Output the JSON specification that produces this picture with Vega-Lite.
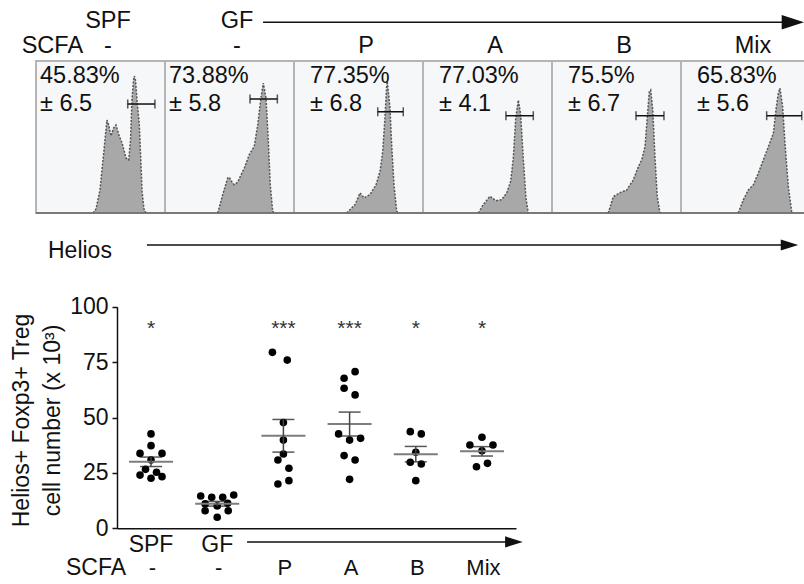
{
  "$schema": "https://vega.github.io/schema/vega-lite/v6.json",
  "width": 804,
  "height": 584,
  "autosize": {"type": "fit", "contains": "padding"},
  "padding": 0,
  "background": "white",
  "config": {
    "view": {"stroke": null},
    "font": "Liberation Sans",
    "text": {"font": "Liberation Sans", "color": "#111111"},
    "axis": {"labelFont": "Liberation Sans", "titleFont": "Liberation Sans"}
  },
  "datasets": {
    "panels": [
      {"panel": 0, "geno": "SPF", "scfa": "-", "pct": "45.83%", "sd": "± 6.5", "lo": 0.711, "hi": 0.922, "gate": 0.717},
      {"panel": 1, "geno": "GF", "scfa": "-", "pct": "73.88%", "sd": "± 5.8", "lo": 0.659, "hi": 0.871, "gate": 0.75},
      {"panel": 2, "geno": "", "scfa": "P", "pct": "77.35%", "sd": "± 6.8", "lo": 0.649, "hi": 0.847, "gate": 0.666},
      {"panel": 3, "geno": "", "scfa": "A", "pct": "77.03%", "sd": "± 4.1", "lo": 0.643, "hi": 0.855, "gate": 0.64},
      {"panel": 4, "geno": "", "scfa": "B", "pct": "75.5%", "sd": "± 6.7", "lo": 0.651, "hi": 0.868, "gate": 0.64},
      {"panel": 5, "geno": "", "scfa": "Mix", "pct": "65.83%", "sd": "± 5.6", "lo": 0.664, "hi": 0.936, "gate": 0.64}
    ],
    "hist": [
      {"p": 0, "h": 0.442, "c": 0}, {"p": 0, "h": 0.465, "c": 0.026}, {"p": 0, "h": 0.496, "c": 0.151}, {"p": 0, "h": 0.527, "c": 0.414},
      {"p": 0, "h": 0.55, "c": 0.612}, {"p": 0, "h": 0.566, "c": 0.572}, {"p": 0, "h": 0.581, "c": 0.507}, {"p": 0, "h": 0.601, "c": 0.559},
      {"p": 0, "h": 0.62, "c": 0.579}, {"p": 0, "h": 0.643, "c": 0.513}, {"p": 0, "h": 0.667, "c": 0.461}, {"p": 0, "h": 0.686, "c": 0.401},
      {"p": 0, "h": 0.698, "c": 0.362}, {"p": 0, "h": 0.719, "c": 0.349}, {"p": 0, "h": 0.733, "c": 0.48}, {"p": 0, "h": 0.744, "c": 0.743},
      {"p": 0, "h": 0.756, "c": 0.875}, {"p": 0, "h": 0.762, "c": 0.901}, {"p": 0, "h": 0.771, "c": 0.875}, {"p": 0, "h": 0.783, "c": 0.743},
      {"p": 0, "h": 0.801, "c": 0.579}, {"p": 0, "h": 0.814, "c": 0.316}, {"p": 0, "h": 0.822, "c": 0.145}, {"p": 0, "h": 0.837, "c": 0.026},
      {"p": 0, "h": 0.853, "c": 0},
      {"p": 1, "h": 0.409, "c": 0}, {"p": 1, "h": 0.447, "c": 0.12}, {"p": 1, "h": 0.486, "c": 0.23}, {"p": 1, "h": 0.498, "c": 0.235},
      {"p": 1, "h": 0.519, "c": 0.204}, {"p": 1, "h": 0.537, "c": 0.186}, {"p": 1, "h": 0.564, "c": 0.204}, {"p": 1, "h": 0.589, "c": 0.25},
      {"p": 1, "h": 0.615, "c": 0.296}, {"p": 1, "h": 0.653, "c": 0.384}, {"p": 1, "h": 0.692, "c": 0.439}, {"p": 1, "h": 0.719, "c": 0.581},
      {"p": 1, "h": 0.744, "c": 0.757}, {"p": 1, "h": 0.762, "c": 0.855}, {"p": 1, "h": 0.783, "c": 0.757}, {"p": 1, "h": 0.801, "c": 0.472},
      {"p": 1, "h": 0.816, "c": 0.186}, {"p": 1, "h": 0.835, "c": 0.011}, {"p": 1, "h": 0.845, "c": 0},
      {"p": 2, "h": 0.409, "c": 0}, {"p": 2, "h": 0.473, "c": 0.055}, {"p": 2, "h": 0.512, "c": 0.132}, {"p": 2, "h": 0.543, "c": 0.099},
      {"p": 2, "h": 0.589, "c": 0.121}, {"p": 2, "h": 0.636, "c": 0.186}, {"p": 2, "h": 0.667, "c": 0.274}, {"p": 2, "h": 0.688, "c": 0.406},
      {"p": 2, "h": 0.705, "c": 0.625}, {"p": 2, "h": 0.719, "c": 0.844}, {"p": 2, "h": 0.723, "c": 0.866}, {"p": 2, "h": 0.744, "c": 0.691},
      {"p": 2, "h": 0.757, "c": 0.45}, {"p": 2, "h": 0.775, "c": 0.186}, {"p": 2, "h": 0.796, "c": 0.011}, {"p": 2, "h": 0.806, "c": 0},
      {"p": 3, "h": 0.429, "c": 0}, {"p": 3, "h": 0.467, "c": 0.055}, {"p": 3, "h": 0.519, "c": 0.11}, {"p": 3, "h": 0.566, "c": 0.081},
      {"p": 3, "h": 0.61, "c": 0.088}, {"p": 3, "h": 0.649, "c": 0.132}, {"p": 3, "h": 0.68, "c": 0.209}, {"p": 3, "h": 0.7, "c": 0.362},
      {"p": 3, "h": 0.719, "c": 0.625}, {"p": 3, "h": 0.739, "c": 0.743}, {"p": 3, "h": 0.757, "c": 0.647}, {"p": 3, "h": 0.777, "c": 0.362},
      {"p": 3, "h": 0.798, "c": 0.099}, {"p": 3, "h": 0.816, "c": 0},
      {"p": 4, "h": 0.436, "c": 0}, {"p": 4, "h": 0.475, "c": 0.107}, {"p": 4, "h": 0.527, "c": 0.134}, {"p": 4, "h": 0.579, "c": 0.151},
      {"p": 4, "h": 0.63, "c": 0.217}, {"p": 4, "h": 0.669, "c": 0.304}, {"p": 4, "h": 0.695, "c": 0.349}, {"p": 4, "h": 0.721, "c": 0.436},
      {"p": 4, "h": 0.739, "c": 0.634}, {"p": 4, "h": 0.754, "c": 0.798}, {"p": 4, "h": 0.765, "c": 0.809}, {"p": 4, "h": 0.781, "c": 0.678},
      {"p": 4, "h": 0.798, "c": 0.37}, {"p": 4, "h": 0.816, "c": 0.107}, {"p": 4, "h": 0.837, "c": 0},
      {"p": 5, "h": 0.444, "c": 0}, {"p": 5, "h": 0.483, "c": 0.086}, {"p": 5, "h": 0.522, "c": 0.151}, {"p": 5, "h": 0.56, "c": 0.184},
      {"p": 5, "h": 0.599, "c": 0.261}, {"p": 5, "h": 0.638, "c": 0.349}, {"p": 5, "h": 0.677, "c": 0.436}, {"p": 5, "h": 0.716, "c": 0.524},
      {"p": 5, "h": 0.736, "c": 0.678}, {"p": 5, "h": 0.754, "c": 0.787}, {"p": 5, "h": 0.767, "c": 0.82}, {"p": 5, "h": 0.788, "c": 0.699},
      {"p": 5, "h": 0.806, "c": 0.458}, {"p": 5, "h": 0.832, "c": 0.173}, {"p": 5, "h": 0.858, "c": 0.009}, {"p": 5, "h": 0.87, "c": 0}
    ],
    "cells": [
      {"g": "SPF", "v": 42.6, "lane": 0}, {"g": "SPF", "v": 37.3, "lane": 0}, {"g": "SPF", "v": 33.8, "lane": -2}, {"g": "SPF", "v": 33.8, "lane": 2},
      {"g": "SPF", "v": 30.8, "lane": 0}, {"g": "SPF", "v": 26.6, "lane": -1}, {"g": "SPF", "v": 25.3, "lane": 1}, {"g": "SPF", "v": 24.0, "lane": -2},
      {"g": "SPF", "v": 23.3, "lane": 2}, {"g": "SPF", "v": 22.6, "lane": 0},
      {"g": "GF", "v": 14.6, "lane": -3}, {"g": "GF", "v": 14.0, "lane": -1}, {"g": "GF", "v": 14.0, "lane": 1}, {"g": "GF", "v": 15.0, "lane": 3},
      {"g": "GF", "v": 11.0, "lane": -2.2}, {"g": "GF", "v": 10.1, "lane": 0}, {"g": "GF", "v": 11.3, "lane": 1.9}, {"g": "GF", "v": 7.9, "lane": -2.2},
      {"g": "GF", "v": 7.9, "lane": 2}, {"g": "GF", "v": 5.0, "lane": 0},
      {"g": "P", "v": 79.4, "lane": -2}, {"g": "P", "v": 75.9, "lane": 0.7}, {"g": "P", "v": 47.7, "lane": 0}, {"g": "P", "v": 39.8, "lane": 0},
      {"g": "P", "v": 33.5, "lane": 0}, {"g": "P", "v": 30.8, "lane": -1}, {"g": "P", "v": 27.1, "lane": 1}, {"g": "P", "v": 20.0, "lane": -1},
      {"g": "P", "v": 21.5, "lane": 1},
      {"g": "A", "v": 70.7, "lane": 1}, {"g": "A", "v": 67.7, "lane": -1}, {"g": "A", "v": 63.2, "lane": -1}, {"g": "A", "v": 60.2, "lane": 1},
      {"g": "A", "v": 42.6, "lane": -2}, {"g": "A", "v": 39.8, "lane": 0}, {"g": "A", "v": 40.6, "lane": 2}, {"g": "A", "v": 32.8, "lane": -1},
      {"g": "A", "v": 30.8, "lane": 1}, {"g": "A", "v": 22.1, "lane": 0},
      {"g": "B", "v": 43.6, "lane": -1}, {"g": "B", "v": 42.6, "lane": 1}, {"g": "B", "v": 34.3, "lane": 0}, {"g": "B", "v": 29.8, "lane": -1},
      {"g": "B", "v": 29.0, "lane": 1}, {"g": "B", "v": 21.5, "lane": 0},
      {"g": "Mix", "v": 41.1, "lane": 0}, {"g": "Mix", "v": 37.6, "lane": -2.2}, {"g": "Mix", "v": 37.6, "lane": 2}, {"g": "Mix", "v": 35.0, "lane": 0},
      {"g": "Mix", "v": 27.8, "lane": -1}, {"g": "Mix", "v": 29.3, "lane": 1}
    ],
    "groups": [
      {"g": "SPF", "geno": "SPF", "scfa": "-", "sig": "*"},
      {"g": "GF", "geno": "GF", "scfa": "-", "sig": ""},
      {"g": "P", "geno": "", "scfa": "P", "sig": "***"},
      {"g": "A", "geno": "", "scfa": "A", "sig": "***"},
      {"g": "B", "geno": "", "scfa": "B", "sig": "*"},
      {"g": "Mix", "geno": "", "scfa": "Mix", "sig": "*"}
    ]
  },
  "layer": [
    {
      "layer": [
        {
          "data": {"name": "panels"},
          "transform": [{"calculate": "datum.panel + 1", "as": "right"}],
          "mark": {"type": "rect", "fill": "#f5f7f9", "stroke": "#b5b5b5", "strokeWidth": 2},
          "encoding": {
            "x": {"field": "panel", "type": "quantitative", "scale": {"domain": [0, 6], "range": [36, 810], "nice": false, "zero": false}, "axis": null},
            "x2": {"field": "right"},
            "y": {"datum": 0, "type": "quantitative", "scale": {"domain": [0, 1], "range": [213, 61], "nice": false, "zero": false}, "axis": null},
            "y2": {"datum": 1}
          }
        },
        {
          "data": {"name": "hist"},
          "transform": [{"calculate": "datum.p + datum.h", "as": "pos"}],
          "mark": {"type": "area", "color": "#a8a8a8", "opacity": 1},
          "encoding": {
            "x": {"field": "pos", "type": "quantitative"},
            "y": {"field": "c", "type": "quantitative", "stack": null},
            "detail": {"field": "p", "type": "nominal"}
          }
        },
        {
          "data": {"name": "hist"},
          "transform": [{"calculate": "datum.p + datum.h", "as": "pos"}],
          "mark": {"type": "line", "color": "#555555", "strokeWidth": 1.5, "strokeDash": [2, 1.5]},
          "encoding": {
            "x": {"field": "pos", "type": "quantitative"},
            "y": {"field": "c", "type": "quantitative", "stack": null},
            "detail": {"field": "p", "type": "nominal"}
          }
        },
        {
          "data": {"name": "panels"},
          "transform": [{"calculate": "datum.panel + 1", "as": "right"}],
          "mark": {"type": "rule", "color": "#666666", "strokeWidth": 1.5},
          "encoding": {
            "x": {"field": "panel", "type": "quantitative"},
            "x2": {"field": "right"},
            "y": {"datum": 0, "type": "quantitative"}
          }
        },
        {
          "data": {"name": "panels"},
          "transform": [{"calculate": "datum.panel + datum.lo", "as": "gx1"}, {"calculate": "datum.panel + datum.hi", "as": "gx2"}],
          "layer": [
            {
              "mark": {"type": "rule", "color": "#111111", "strokeWidth": 1.5},
              "encoding": {"x": {"field": "gx1", "type": "quantitative"}, "x2": {"field": "gx2"}, "y": {"field": "gate", "type": "quantitative"}}
            },
            {
              "mark": {"type": "tick", "orient": "vertical", "color": "#111111", "size": 9, "thickness": 1.5},
              "encoding": {"x": {"field": "gx1", "type": "quantitative"}, "y": {"field": "gate", "type": "quantitative"}}
            },
            {
              "mark": {"type": "tick", "orient": "vertical", "color": "#111111", "size": 9, "thickness": 1.5},
              "encoding": {"x": {"field": "gx2", "type": "quantitative"}, "y": {"field": "gate", "type": "quantitative"}}
            }
          ]
        },
        {
          "data": {"name": "panels"},
          "transform": [{"calculate": "datum.panel + 0.5", "as": "mid"}],
          "layer": [
            {
              "mark": {"type": "text", "fontSize": 23.5, "align": "center", "baseline": "alphabetic", "dx": 7.5},
              "encoding": {"x": {"field": "mid", "type": "quantitative"}, "y": {"datum": 1.215, "type": "quantitative"}, "text": {"field": "geno"}}
            },
            {
              "mark": {"type": "text", "fontSize": 23.5, "align": "center", "baseline": "alphabetic", "dx": 7.5},
              "encoding": {"x": {"field": "mid", "type": "quantitative"}, "y": {"datum": 1.0526, "type": "quantitative"}, "text": {"field": "scfa"}}
            }
          ]
        },
        {
          "data": {"name": "panels"},
          "transform": [{"filter": "datum.panel < 2"}],
          "layer": [
            {
              "mark": {"type": "text", "fontSize": 23.5, "align": "left", "baseline": "alphabetic", "dx": 4},
              "encoding": {"x": {"field": "panel", "type": "quantitative"}, "y": {"datum": 0.853, "type": "quantitative"}, "text": {"field": "pct"}}
            },
            {
              "mark": {"type": "text", "fontSize": 23.5, "align": "left", "baseline": "alphabetic", "dx": 4},
              "encoding": {"x": {"field": "panel", "type": "quantitative"}, "y": {"datum": 0.671, "type": "quantitative"}, "text": {"field": "sd"}}
            }
          ]
        },
        {
          "data": {"name": "panels"},
          "transform": [{"filter": "datum.panel >= 2"}],
          "layer": [
            {
              "mark": {"type": "text", "fontSize": 23.5, "align": "left", "baseline": "alphabetic", "dx": 16},
              "encoding": {"x": {"field": "panel", "type": "quantitative"}, "y": {"datum": 0.853, "type": "quantitative"}, "text": {"field": "pct"}}
            },
            {
              "mark": {"type": "text", "fontSize": 23.5, "align": "left", "baseline": "alphabetic", "dx": 16},
              "encoding": {"x": {"field": "panel", "type": "quantitative"}, "y": {"datum": 0.671, "type": "quantitative"}, "text": {"field": "sd"}}
            }
          ]
        },
        {
          "data": {"values": [{}]},
          "layer": [
            {
              "mark": {"type": "text", "fontSize": 23.5, "align": "left", "baseline": "alphabetic"},
              "encoding": {"x": {"datum": -0.111, "type": "quantitative"}, "y": {"datum": 1.0526, "type": "quantitative"}, "text": {"value": "SCFA"}}
            },
            {
              "mark": {"type": "text", "fontSize": 23, "align": "left", "baseline": "alphabetic"},
              "encoding": {"x": {"datum": 0.093, "type": "quantitative"}, "y": {"datum": -0.298, "type": "quantitative"}, "text": {"value": "Helios"}}
            },
            {
              "mark": {"type": "text", "fontSize": 23, "align": "center", "baseline": "alphabetic"},
              "encoding": {"x": {"datum": 0.465, "type": "quantitative"}, "y": {"datum": -2.382, "type": "quantitative"}, "text": {"value": "SCFA"}}
            },
            {
              "mark": {"type": "rule", "color": "#111111", "strokeWidth": 1.5},
              "encoding": {"x": {"datum": 1.76, "type": "quantitative"}, "x2": {"datum": 5.845}, "y": {"datum": 1.255, "type": "quantitative"}}
            },
            {
              "mark": {"type": "point", "filled": true, "color": "#111111", "opacity": 1, "shape": "M -1 -0.66 L 1 0 L -1 0.66 Z", "size": 497},
              "encoding": {"x": {"datum": 5.867, "type": "quantitative"}, "y": {"datum": 1.255, "type": "quantitative"}}
            },
            {
              "mark": {"type": "rule", "color": "#111111", "strokeWidth": 1.5},
              "encoding": {"x": {"datum": 0.86, "type": "quantitative"}, "x2": {"datum": 5.806}, "y": {"datum": -0.2105, "type": "quantitative"}}
            },
            {
              "mark": {"type": "point", "filled": true, "color": "#111111", "opacity": 1, "shape": "M -1 -0.63 L 1 0 L -1 0.63 Z", "size": 306},
              "encoding": {"x": {"datum": 5.841, "type": "quantitative"}, "y": {"datum": -0.2105, "type": "quantitative"}}
            },
            {
              "mark": {"type": "rule", "color": "#111111", "strokeWidth": 1.5},
              "encoding": {"x": {"datum": 1.636, "type": "quantitative"}, "x2": {"datum": 3.69}, "y": {"datum": -2.164, "type": "quantitative"}}
            },
            {
              "mark": {"type": "point", "filled": true, "color": "#111111", "opacity": 1, "shape": "M -1 -0.63 L 1 0 L -1 0.63 Z", "size": 313},
              "encoding": {"x": {"datum": 3.705, "type": "quantitative"}, "y": {"datum": -2.164, "type": "quantitative"}}
            }
          ]
        }
      ]
    },
    {
      "layer": [
        {
          "data": {"name": "cells"},
          "mark": {"type": "point", "filled": true, "color": "#000000", "opacity": 1, "size": 58, "strokeWidth": 0},
          "encoding": {
            "x": {
              "field": "g", "type": "nominal",
              "scale": {"type": "point", "domain": ["SPF", "GF", "P", "A", "B", "Mix"], "range": [117, 516], "padding": 0.514},
              "axis": {"orient": "top", "offset": -528.3, "domain": true, "domainColor": "#111111", "domainWidth": 1.5, "ticks": false, "labels": false, "title": null, "grid": false}
            },
            "xOffset": {"field": "lane", "type": "quantitative", "scale": {"domain": [-3, 3], "range": [-16.5, 16.5]}},
            "y": {
              "field": "v", "type": "quantitative",
              "scale": {"domain": [0, 100], "range": [528.3, 306.7], "nice": false, "zero": false},
              "axis": {
                "orient": "left", "offset": -117, "values": [0, 25, 50, 75, 100], "grid": false,
                "domainColor": "#111111", "domainWidth": 1.5, "tickColor": "#111111", "tickWidth": 1.5, "tickSize": 5,
                "labelFontSize": 23, "labelColor": "#111111", "labelPadding": 4, "labelFlush": false,
                "title": ["Helios+ Foxp3+ Treg", "cell number (x 10³)"],
                "titleFontSize": 23, "titleFontWeight": "normal", "titleColor": "#111111",
                "titleX": -84, "titleY": 420, "titleAngle": -90, "titleBaseline": "bottom", "titleAlign": "center", "titleLineHeight": 31
              }
            }
          }
        },
        {
          "data": {"name": "cells"},
          "mark": {"type": "tick", "orient": "horizontal", "color": "#7d7d7d", "thickness": 2, "size": 44},
          "encoding": {
            "x": {"field": "g", "type": "nominal", "axis": {"title": null}},
            "y": {"aggregate": "mean", "field": "v", "type": "quantitative", "title": ["Helios+ Foxp3+ Treg", "cell number (x 10³)"], "axis": {"title": ["Helios+ Foxp3+ Treg", "cell number (x 10³)"]}}
          }
        },
        {
          "data": {"name": "cells"},
          "mark": {"type": "errorbar", "extent": "stderr", "ticks": {"size": 22, "color": "#111111", "thickness": 1.5}, "rule": {"color": "#444444", "strokeWidth": 1.5}},
          "encoding": {
            "x": {"field": "g", "type": "nominal", "axis": {"title": null}},
            "y": {"field": "v", "type": "quantitative", "title": ["Helios+ Foxp3+ Treg", "cell number (x 10³)"], "axis": {"title": ["Helios+ Foxp3+ Treg", "cell number (x 10³)"]}}
          }
        },
        {
          "data": {"name": "groups"},
          "layer": [
            {
              "mark": {"type": "text", "fontSize": 21, "align": "center", "baseline": "alphabetic", "color": "#333333"},
              "encoding": {"x": {"field": "g", "type": "nominal", "axis": {"title": null}}, "y": {"datum": 87.2, "type": "quantitative"}, "text": {"field": "sig"}}
            },
            {
              "mark": {"type": "text", "fontSize": 23, "align": "center", "baseline": "alphabetic"},
              "encoding": {"x": {"field": "g", "type": "nominal", "axis": {"title": null}}, "y": {"datum": -10.56, "type": "quantitative"}, "text": {"field": "geno"}}
            },
            {
              "mark": {"type": "text", "fontSize": 22, "align": "center", "baseline": "alphabetic", "dx": 1.5},
              "encoding": {"x": {"field": "g", "type": "nominal", "axis": {"title": null}}, "y": {"datum": -21.07, "type": "quantitative"}, "text": {"field": "scfa"}}
            }
          ]
        }
      ]
    }
  ],
  "resolve": {"scale": {"x": "independent", "y": "independent"}}
}
